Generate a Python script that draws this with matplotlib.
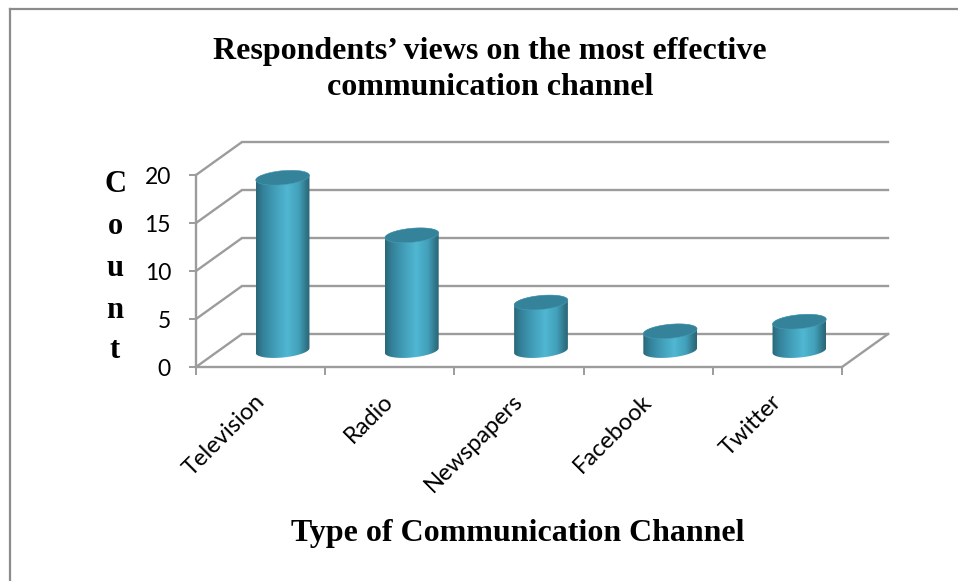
import numpy as np
import matplotlib
matplotlib.use("Agg")
import matplotlib.pyplot as plt
from matplotlib.colors import LinearSegmentedColormap
from matplotlib.lines import Line2D
from matplotlib.patches import Polygon

channels = ["Television", "Radio", "Newspapers", "Facebook", "Twitter"]
counts = [18, 12, 5, 2, 3]
value_ticks = [0, 5, 10, 15, 20]

W, H = 958, 581
LEFT, RIGHT, BOTTOM, TOP = 196, 842, 367, 175     # front plane, in pixels
DEPTH_PX = (46, 33)                               # shift from front plane to back wall
GRID = "#9c9c9c"
SERIF = "Liberation Serif"

fig = plt.figure(figsize=(W / 100, H / 100), dpi=100, facecolor="white")
ax = fig.add_axes([LEFT / W, 1 - BOTTOM / H, (RIGHT - LEFT) / W, (BOTTOM - TOP) / H])
ax.patch.set_alpha(0)
ax.set_xlim(0, len(channels))
ax.set_ylim(0, 20)

px_x = (RIGHT - LEFT) / len(channels)             # pixels per category
px_y = (BOTTOM - TOP) / 20                        # pixels per count
dx = DEPTH_PX[0] / px_x
dy = DEPTH_PX[1] / px_y

# Back wall and side wall gridlines
for v in value_ticks:
    ax.plot([0, dx, len(channels) + dx], [v, v + dy, v + dy], color=GRID, lw=1.7,
            clip_on=False, zorder=1, solid_joinstyle="miter")
ax.plot([len(channels), len(channels) + dx], [0, dy], color=GRID, lw=1.7,
        clip_on=False, zorder=1)

for side in ("top", "right"):
    ax.spines[side].set_visible(False)
for side in ("left", "bottom"):
    ax.spines[side].set_color(GRID)
    ax.spines[side].set_linewidth(1.7)

ax.set_yticks(value_ticks)
ax.set_xticks(range(len(channels) + 1))
ax.set_xticklabels([])
# Category labels hang from just left of each category's centre
ax.set_xticks(np.arange(len(channels)) + 0.5 - 7 / px_x, minor=True)
ax.set_xticklabels(channels, minor=True, rotation=45, ha="right", rotation_mode="anchor",
                   fontfamily="Lato", fontsize=17)
ax.tick_params(axis="x", which="major", length=5.5, width=1.4, color=GRID)
ax.tick_params(axis="x", which="minor", length=0, pad=17)
ax.tick_params(axis="y", length=5, width=1.4, color=GRID, pad=13)
for lab in ax.get_yticklabels():
    lab.set_fontfamily("Lato")
    lab.set_fontsize(16.5)

# Cylinders: shaded body clipped to its outline, darker cap on top
shade = LinearSegmentedColormap.from_list(
    "cyl", [(0, "#2a6678"), (0.12, "#338097"), (0.35, "#429eb9"), (0.58, "#50b7d2"),
            (0.8, "#429fb9"), (0.93, "#307789"), (1, "#2b6475")])
gradient = np.linspace(0, 1, 256).reshape(1, -1)
A_PX, B_PX, TILT = 27.0, 7.0, np.radians(5.5)


def ellipse(cx, cy, start, stop):
    t = np.linspace(start, stop, 60)
    ex = A_PX * np.cos(t) * np.cos(TILT) - B_PX * np.sin(t) * np.sin(TILT)
    ey = A_PX * np.cos(t) * np.sin(TILT) + B_PX * np.sin(t) * np.cos(TILT)
    return np.column_stack([cx + ex / px_x, cy + ey / px_y])


for i, value in enumerate(counts):
    cx = i + 0.5 + (dx / 2) - 1 / px_x
    base = dy / 2
    top = base + value
    outline = np.vstack([ellipse(cx, top, 0, np.pi), ellipse(cx, base, np.pi, 2 * np.pi)])
    half = A_PX / px_x
    img = ax.imshow(gradient, cmap=shade, aspect="auto", interpolation="bilinear",
                    extent=[cx - half, cx + half, base - 1.5, top + 1.5], zorder=3)
    clip = Polygon(outline, closed=True, transform=ax.transData, fc="none", ec="none",
                   clip_on=False)
    ax.add_patch(clip)
    img.set_clip_path(clip)
    ax.add_patch(Polygon(ellipse(cx, top, 0, 2 * np.pi), closed=True, fc="#35829b",
                         ec="#4a9db5", lw=0.4, zorder=4, clip_on=False))

ax.set_xlim(0, len(channels))
ax.set_ylim(0, 20)


def put(x, y, s, **kw):
    fig.text(x / W, 1 - y / H, s, ha="center", va="center", fontfamily=SERIF,
             fontweight="bold", **kw)


put(490, 52, "Respondents\u2019 views on the most effective", fontsize=23)
put(490, 87, "communication channel", fontsize=23)
put(518, 533, "Type of Communication Channel", fontsize=23)
for letter, y in zip("Count", [184, 227, 269, 310, 350]):
    put(115, y, letter, fontsize=22)

# Outer chart frame: top and left edges
frame = dict(color="#8c8c8c", lw=1.6, transform=fig.transFigure)
fig.add_artist(Line2D([9.5 / W, 9.5 / W], [0, 1 - 8.5 / H], **frame))
fig.add_artist(Line2D([9.5 / W, 1], [1 - 8.5 / H, 1 - 8.5 / H], **frame))

fig.savefig("out.png", dpi=100)
